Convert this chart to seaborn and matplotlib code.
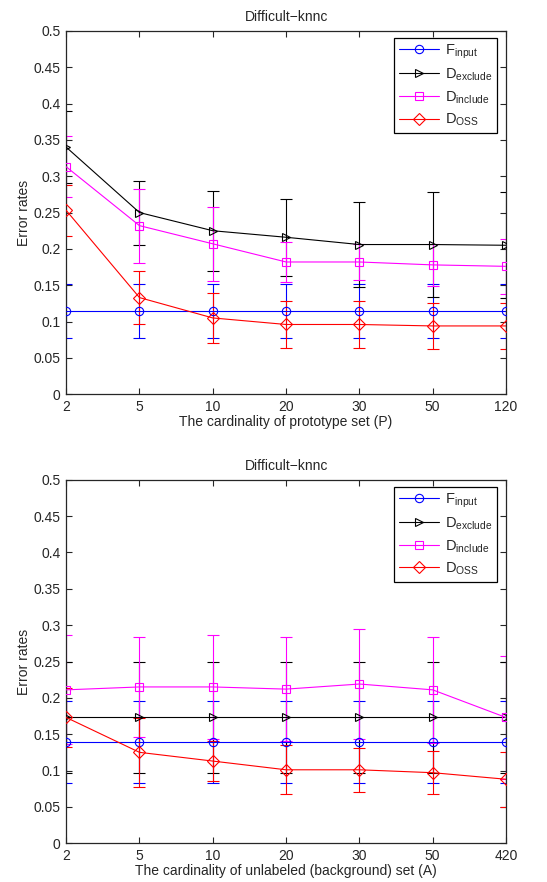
import numpy as np
import pandas as pd
import matplotlib
matplotlib.use("Agg")
import matplotlib.pyplot as plt
from matplotlib.lines import Line2D
import seaborn as sns

# top panel: prototype set size
p_labels = ["2", "5", "10", "20", "30", "50", "120"]
p_finput = [0.115, 0.115, 0.115, 0.115, 0.115, 0.115, 0.115]
p_finput_err = [0.037, 0.037, 0.037, 0.037, 0.037, 0.037, 0.037]
p_dexcl = [0.340, 0.250, 0.225, 0.216, 0.206, 0.206, 0.205]
p_dexcl_err = [0.050, 0.044, 0.055, 0.053, 0.058, 0.072, 0.073]
p_dincl = [0.313, 0.232, 0.207, 0.182, 0.182, 0.178, 0.176]
p_dincl_err = [0.042, 0.051, 0.051, 0.027, 0.025, 0.029, 0.038]
p_doss = [0.253, 0.133, 0.105, 0.096, 0.096, 0.094, 0.094]
p_doss_err = [0.035, 0.036, 0.034, 0.032, 0.033, 0.032, 0.032]

# bottom panel: unlabeled (background) set size
a_labels = ["2", "5", "10", "20", "30", "50", "420"]
a_finput = [0.139, 0.139, 0.139, 0.139, 0.139, 0.139, 0.139]
a_finput_err = [0.056, 0.056, 0.056, 0.056, 0.056, 0.056, 0.056]
a_dexcl = [0.173, 0.173, 0.173, 0.173, 0.173, 0.173, 0.173]
a_dexcl_err = [0.076, 0.076, 0.076, 0.076, 0.076, 0.076, 0.076]
a_dincl = [0.211, 0.215, 0.215, 0.212, 0.219, 0.211, 0.173]
a_dincl_err = [0.075, 0.069, 0.072, 0.072, 0.076, 0.073, 0.085]
a_doss = [0.173, 0.125, 0.113, 0.101, 0.101, 0.097, 0.088]
a_doss_err = [0.041, 0.047, 0.028, 0.034, 0.030, 0.030, 0.038]

names = [r"F$_{\mathrm{input}}$", r"D$_{\mathrm{exclude}}$",
         r"D$_{\mathrm{include}}$", r"D$_{\mathrm{OSS}}$"]
colors = ["#0000ff", "#000000", "#ff00ff", "#ff0000"]
markers = ["o", ">", "s", "D"]

sns.set_style("ticks")
plt.rcParams["font.family"] = ["Liberation Sans", "DejaVu Sans"]
plt.rcParams["mathtext.fontset"] = "custom"
plt.rcParams["mathtext.rm"] = "Liberation Sans"

fig = plt.figure(figsize=(5.47, 8.82), dpi=100)
ax1 = fig.add_axes([0.121, 0.553, 0.804, 0.412])
ax2 = fig.add_axes([0.121, 0.044, 0.804, 0.412])


def draw(ax, labels, series, errs, xlabel):
    x = np.arange(len(labels))
    handles = []
    for vals, err, name, c, m in zip(series, errs, names, colors, markers):
        ax.errorbar(x, vals, yerr=err, fmt="none", ecolor=c, elinewidth=0.8,
                    capsize=4.5, capthick=0.8, zorder=2)
        sns.lineplot(x=x, y=vals, ax=ax, color=c, marker=m, markersize=6,
                     markerfacecolor="none", markeredgecolor=c,
                     markeredgewidth=0.8, linewidth=0.8, zorder=3, legend=False)
        handles.append(Line2D([], [], color=c, marker=m, markersize=6,
                              markerfacecolor="none", markeredgecolor=c,
                              markeredgewidth=0.8, linewidth=0.8, label=name))
    ax.set_xlim(0, len(labels) - 1)
    ax.set_ylim(0, 0.5)
    ax.set_xticks(x)
    ax.set_xticklabels(labels)
    ax.set_yticks(np.arange(0, 0.51, 0.05))
    ax.set_yticklabels(["0", "0.05", "0.1", "0.15", "0.2", "0.25", "0.3",
                        "0.35", "0.4", "0.45", "0.5"])
    ax.tick_params(direction="in", top=True, right=True, labelsize=10,
                   length=4, width=0.8, pad=4)
    for s in ax.spines.values():
        s.set_visible(True)
        s.set_linewidth(0.9)
    ax.set_title("Difficult\u2212knnc", fontsize=10, pad=7)
    ax.set_xlabel(xlabel, fontsize=10, labelpad=1)
    ax.set_ylabel("Error rates", fontsize=10, labelpad=2)
    leg = ax.legend(handles=handles, loc="upper right", fontsize=10.5,
                    frameon=True, fancybox=False, edgecolor="black",
                    handlelength=2.8, borderpad=0.3, labelspacing=0.4,
                    handletextpad=0.4, borderaxespad=0,
                    bbox_to_anchor=(0.98, 0.981), framealpha=1)
    leg.get_frame().set_linewidth(0.9)


draw(ax1, p_labels, [p_finput, p_dexcl, p_dincl, p_doss],
     [p_finput_err, p_dexcl_err, p_dincl_err, p_doss_err],
     "The cardinality of prototype set (P)")
draw(ax2, a_labels, [a_finput, a_dexcl, a_dincl, a_doss],
     [a_finput_err, a_dexcl_err, a_dincl_err, a_doss_err],
     "The cardinality of unlabeled (background) set (A)")

fig.savefig("out.png", dpi=100)
